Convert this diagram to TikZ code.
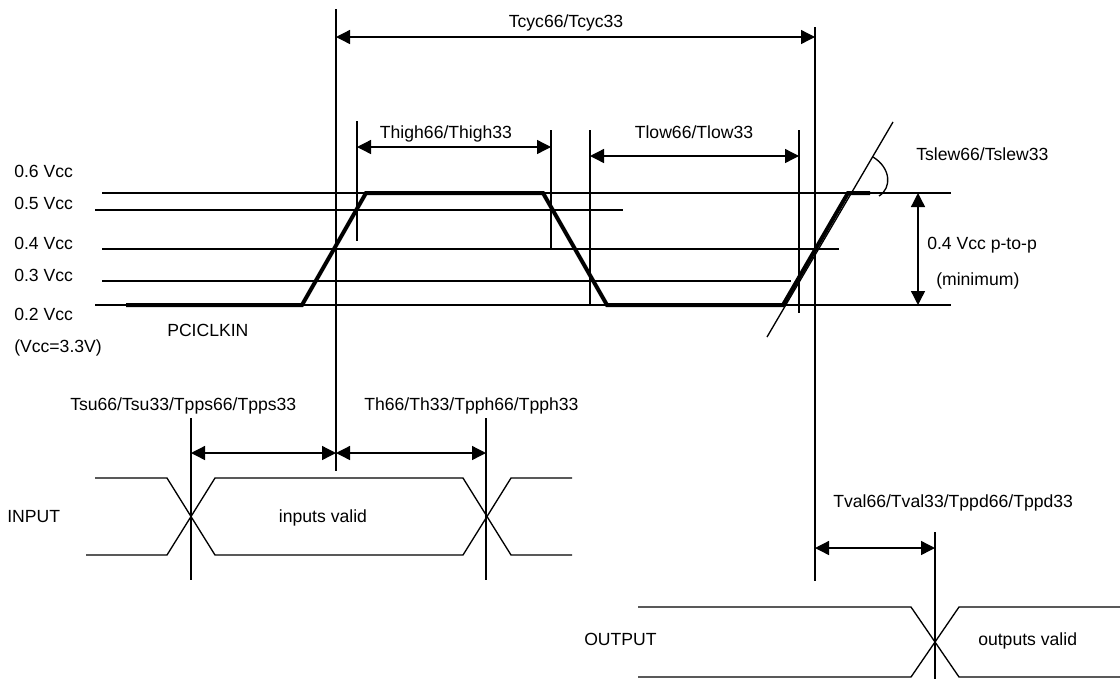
\documentclass[tikz,border=0pt]{standalone}
\usepackage{fontspec}
\setmainfont{Liberation Sans}
\usetikzlibrary{arrows.meta}
\begin{document}
\begin{tikzpicture}[x=0.75pt,y=-0.75pt,
  thinline/.style={line width=1pt, line cap=butt},
  clk/.style={line width=3pt, line join=miter},
  dimarrow/.style={line width=1pt, {Triangle[length=10.5pt,width=10.5pt]}-{Triangle[length=10.5pt,width=10.5pt]}},
  lbl/.style={font=\fontsize{13.2}{15}\selectfont, inner sep=0pt, anchor=base west},
  clbl/.style={lbl, anchor=base}]
\useasboundingbox (0,0) rectangle (1120,679);

% reference levels
\coordinate (l6a) at (102,193); \coordinate (l6b) at (951,193);
\coordinate (l5a) at (95,210);  \coordinate (l5b) at (623,210);
\coordinate (l4a) at (102,249); \coordinate (l4b) at (839,249);
\coordinate (l3a) at (102,281); \coordinate (l3b) at (791,281);
\coordinate (l2a) at (95,305);  \coordinate (l2b) at (951,305);
\draw[thinline] (l6a) -- (l6b);
\draw[thinline] (l5a) -- (l5b);
\draw[thinline] (l4a) -- (l4b);
\draw[thinline] (l3a) -- (l3b);
\draw[thinline] (l2a) -- (l2b);

\node[lbl] (t6) at (14,177) {0.6 Vcc};
\node[lbl] (t5) at (14,209) {0.5 Vcc};
\node[lbl] (t4) at (14,249) {0.4 Vcc};
\node[lbl] (t3) at (14,281) {0.3 Vcc};
\node[lbl] (t2) at (14,320) {0.2 Vcc};
\node[lbl] (tv) at (14,352) {(Vcc=3.3V)};
\node[lbl] (pci) at (167,336) {PCICLKIN};

% clock
\draw[clk] (126,305) -- (302,305) -- (366,193) -- (543,193) -- (607,305) -- (783,305) -- (848,193) -- (870,193);

% vertical markers
\coordinate (cycLt) at (336,9);   \coordinate (cycLb) at (336,471);
\coordinate (cycRt) at (815,27);  \coordinate (cycRb) at (815,581);
\coordinate (hiLt) at (357,121);  \coordinate (hiLb) at (357,241);
\coordinate (hiRt) at (551,130);  \coordinate (hiRb) at (551,249);
\coordinate (loLt) at (590,130);  \coordinate (loLb) at (590,305);
\coordinate (loRt) at (799,130);  \coordinate (loRb) at (799,313);
\draw[thinline] (cycLt) -- (cycLb);
\draw[thinline] (cycRt) -- (cycRb);
\draw[thinline] (hiLt) -- (hiLb);
\draw[thinline] (hiRt) -- (hiRb);
\draw[thinline] (loLt) -- (loLb);
\draw[thinline] (loRt) -- (loRb);

% dimension arrows
\coordinate (cycA) at (336,37);  \coordinate (cycB) at (815,37);
\coordinate (hiA) at (357,147);  \coordinate (hiB) at (551,147);
\coordinate (loA) at (590,156);  \coordinate (loB) at (799,156);
\draw[dimarrow] (cycA) -- (cycB);
\draw[dimarrow] (hiA) -- (hiB);
\draw[dimarrow] (loA) -- (loB);
\node[clbl] (tcyc) at (566,27) {Tcyc66/Tcyc33};
\node[clbl] (thigh) at (446,138) {Thigh66/Thigh33};
\node[clbl] (tlow) at (694,138) {Tlow66/Tlow33};

% slew
\coordinate (slA) at (767,337); \coordinate (slB) at (893,122);
\draw[thinline] (slA) -- (slB);
\coordinate (arcA) at (873,157); \coordinate (arcB) at (879,196);
\draw[thinline] (arcA) .. controls (891,168) and (892,188) .. (arcB);
\node[lbl] (tslew) at (916,160) {Tslew66/Tslew33};

\coordinate (ppA) at (918,193); \coordinate (ppB) at (918,305);
\draw[dimarrow] (ppA) -- (ppB);
\node[lbl] (pp) at (927,249) {0.4 Vcc p-to-p};
\node[lbl] (minl) at (936,285) {(minimum)};

% input timing
\coordinate (suT) at (191,418); \coordinate (suB) at (191,580);
\coordinate (hT) at (486,418);  \coordinate (hB) at (486,580);
\draw[thinline] (suT) -- (suB);
\draw[thinline] (hT) -- (hB);
\coordinate (suA) at (191,453); \coordinate (suM) at (336,453); \coordinate (hA) at (486,453);
\draw[dimarrow] (suA) -- (suM);
\draw[dimarrow] (suM) -- (hA);
\node[lbl] (tsu) at (70,410) {Tsu66/Tsu33/Tpps66/Tpps33};
\node[lbl] (th) at (364,410) {Th66/Th33/Tpph66/Tpph33};

\draw[thinline] (95,478) -- (167,478) -- (215,555) -- (463,555) -- (511,478) -- (572,478);
\draw[thinline] (86,555) -- (167,555) -- (215,478) -- (463,478) -- (511,555) -- (572,555);
\node[lbl] (inp) at (7,522) {INPUT};
\node[clbl] (inv) at (323,522) {inputs valid};

% output timing
\coordinate (vT) at (935,532); \coordinate (vB) at (935,679);
\draw[thinline] (vT) -- (vB);
\coordinate (vA) at (815,548); \coordinate (vC) at (935,548);
\draw[dimarrow] (vA) -- (vC);
\node[lbl] (tval) at (833,507) {Tval66/Tval33/Tppd66/Tppd33};

\draw[thinline] (638,607) -- (911,607) -- (959,677) -- (1120,677);
\draw[thinline] (638,677) -- (911,677) -- (959,607) -- (1120,607);
\node[lbl] (outp) at (584,645) {OUTPUT};
\node[lbl] (outv) at (978,645) {outputs valid};
\end{tikzpicture}
\end{document}
